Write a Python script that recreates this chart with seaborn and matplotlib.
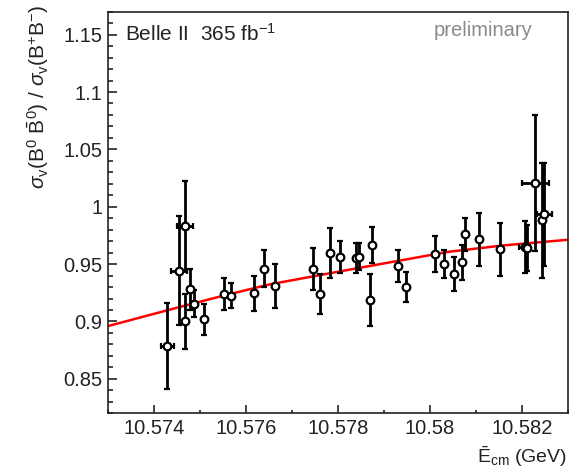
import numpy as np
import pandas as pd
import matplotlib
matplotlib.use("Agg")
import matplotlib.pyplot as plt
from matplotlib.ticker import MultipleLocator, FixedLocator
import seaborn as sns

# measured points: collision energy (GeV), ratio, y error, x error
e_cm = [10.57429, 10.57454, 10.57467, 10.57467, 10.57478, 10.57487, 10.57508,
        10.57553, 10.57568, 10.57617, 10.57640, 10.57664, 10.57745, 10.57760,
        10.57782, 10.57804, 10.57840, 10.57845, 10.57873, 10.57869, 10.57931,
        10.57949, 10.58011, 10.58031, 10.58052, 10.58070, 10.58077, 10.58106,
        10.58153, 10.58206, 10.58211, 10.58229, 10.58243, 10.58249]
ratio = [0.879, 0.944, 0.983, 0.900, 0.928, 0.9155, 0.902,
         0.924, 0.9224, 0.9245, 0.946, 0.931, 0.9457, 0.924,
         0.9598, 0.9564, 0.9555, 0.9565, 0.9665, 0.9187, 0.9485,
         0.9297, 0.9587, 0.950, 0.9413, 0.9515, 0.9758, 0.9715,
         0.963, 0.965, 0.964, 1.0207, 0.9883, 0.9935]
ratio_err = [0.0375, 0.0475, 0.039, 0.024, 0.018, 0.012, 0.0135,
             0.014, 0.011, 0.015, 0.016, 0.0195, 0.0185, 0.0175,
             0.022, 0.014, 0.013, 0.012, 0.0155, 0.023, 0.014,
             0.013, 0.0157, 0.0123, 0.015, 0.015, 0.014, 0.023,
             0.023, 0.023, 0.020, 0.059, 0.050, 0.045]
e_err = [0.00014, 0.00017, 0.00017, 0, 0, 0, 0,
         0, 0, 0, 0, 0, 0, 0,
         0, 0, 0, 0, 0, 0, 0,
         0, 0, 0, 0, 0, 0, 0,
         0, 0.00012, 0, 0.00029, 0, 0.00016]

# fit curve
fit_e = [10.5730, 10.5745, 10.5755, 10.5765, 10.5782, 10.5804, 10.5816, 10.5830]
fit_ratio = [0.8960, 0.9120, 0.9224, 0.9322, 0.9448, 0.9607, 0.9663, 0.9712]

points = pd.DataFrame({"e": e_cm, "r": ratio, "dr": ratio_err, "de": e_err})
fit = pd.DataFrame({"e": fit_e, "r": fit_ratio})

sns.set_theme(style="ticks")
plt.rcParams["font.family"] = ["Liberation Sans", "DejaVu Sans"]
plt.rcParams["mathtext.fontset"] = "custom"
plt.rcParams["mathtext.rm"] = "Liberation Sans"
plt.rcParams["mathtext.it"] = "Liberation Sans:italic"
plt.rcParams["mathtext.bf"] = "Liberation Sans:bold"

fig = plt.figure(figsize=(5.69, 4.68), dpi=100)
ax = fig.add_axes([0.190, 0.117, 0.808, 0.858])

# fit line
sns.lineplot(data=fit, x="e", y="r", color="red", lw=1.8, ax=ax, sort=False)

# data points with error bars
ax.errorbar(points["e"], points["r"], yerr=points["dr"], xerr=points["de"],
            fmt="o", ms=5.5, mfc="white", mec="black", mew=1.6,
            ecolor="black", elinewidth=2.0, capsize=2.5, capthick=1.6,
            zorder=3)

ax.set_xlim(10.573, 10.583)
ax.set_ylim(0.82, 1.17)

ax.xaxis.set_major_locator(FixedLocator([10.574, 10.576, 10.578, 10.580, 10.582]))
ax.set_xticklabels(["10.574", "10.576", "10.578", "10.58", "10.582"])
ax.xaxis.set_minor_locator(MultipleLocator(0.001))
ax.yaxis.set_major_locator(FixedLocator([0.85, 0.9, 0.95, 1.0, 1.05, 1.1, 1.15]))
ax.set_yticklabels(["0.85", "0.9", "0.95", "1", "1.05", "1.1", "1.15"])
ax.yaxis.set_minor_locator(MultipleLocator(0.01))

ax.tick_params(axis="both", which="both", direction="in", colors="#222222",
               labelsize=14.5, width=1.2)
ax.tick_params(axis="y", which="major", length=6.5, pad=4)
ax.tick_params(axis="y", which="minor", length=3.6)
ax.tick_params(axis="x", which="major", length=6, pad=4.5)
ax.tick_params(axis="x", which="minor", length=2.3)

for side in ["top", "right", "bottom", "left"]:
    ax.spines[side].set_visible(True)
    ax.spines[side].set_linewidth(1.2)
    ax.spines[side].set_color("#222222")

ax.set_xlabel(r"$\bar{\mathrm{E}}_{\mathrm{cm}}$ (GeV)", fontsize=14,
              ha="right", color="#222222")
ax.xaxis.set_label_coords(0.998, -0.077)
ax.set_ylabel(r"$\sigma_{\mathrm{v}}(\mathrm{B}^{0}\ \bar{\mathrm{B}}^{0})\ /\ "
              r"\sigma_{\mathrm{v}}(\mathrm{B}^{+}\mathrm{B}^{-})$",
              fontsize=15, ha="right", color="#222222")
ax.yaxis.set_label_coords(-0.125, 1.017)

ax.text(0.037, 0.944, r"Belle II  365 fb$^{-1}$", transform=ax.transAxes,
        fontsize=15, va="center", ha="left", color="#222222")
ax.text(0.924, 0.952, "preliminary", transform=ax.transAxes,
        fontsize=14.5, va="center", ha="right", color="#8a8a8a")

ax.set_facecolor("white")
fig.patch.set_facecolor("white")
fig.savefig("out.png", dpi=100)
